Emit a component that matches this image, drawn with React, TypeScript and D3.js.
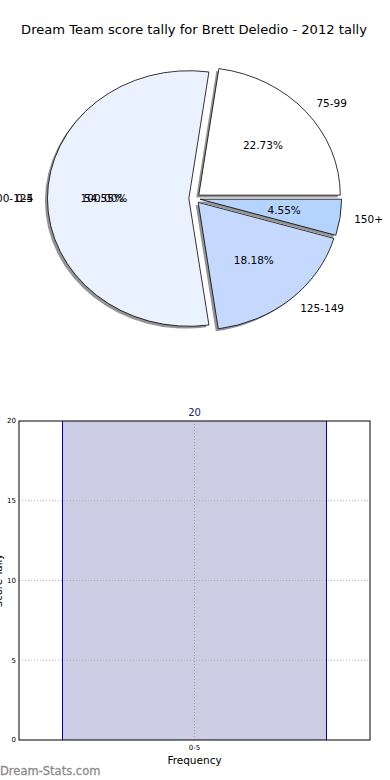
import { useMemo } from 'react';
import * as d3 from 'd3';

// pie: score ranges (counter-clockwise from 3 o'clock, like matplotlib)
const pieLabels = ['75-99', '100-124', '125-149', '150+'];
const pieValues = [5, 12, 4, 1];
const pieColors = ['#ffffff', '#eaf1ff', '#c5d9ff', '#b4d4ff'];

// second (overlaid) pie that only left its texts behind
const ghostLabels = ['0-5'];
const ghostValues = [20];

// histogram
const histCategories = ['0-5'];
const histValues = [20];
const yTicks = [0, 5, 10, 15, 20];

const W = 390;
const H = 780;
const FONT = '"DejaVu Sans", Verdana, sans-serif';

const pieSpec = { cx: 194.5, cy: 198.5, rx: 141.5, ry: 127.8, explode: 0.04 };
const plot = { left: 19, right: 370, top: 421, bottom: 740 };

const fmtPct = (v: number) => `${v.toFixed(2)}%`;

const App = () => {
  const pieGen = d3
    .pie<number>()
    .sort(null)
    .startAngle(Math.PI / 2)
    .endAngle(Math.PI / 2 - 2 * Math.PI)
    .value((d) => d);

  const slices = useMemo(() => pieGen(pieValues), []);
  const ghost = useMemo(() => pieGen(ghostValues), []);
  const total = d3.sum(pieValues);
  const ghostTotal = d3.sum(ghostValues);

  const arcGen = d3.arc<any>();
  const unitArc = (s: any) =>
    arcGen({ innerRadius: 0, outerRadius: 1, startAngle: s.startAngle, endAngle: s.endAngle }) as string;

  const { cx, cy, rx, ry, explode } = pieSpec;
  const dir = (s: any) => {
    const a = (s.startAngle + s.endAngle) / 2;
    return [Math.sin(a), -Math.cos(a)];
  };

  const x = d3
    .scaleBand<string>()
    .domain(histCategories)
    .range([plot.left, plot.right])
    .paddingInner(0.1415)
    .paddingOuter(0.1415);
  const y = d3.scaleLinear().domain([0, 20]).range([plot.bottom, plot.top]);

  return (
    <svg
      width={W}
      height={H}
      style={{ position: 'absolute', left: 0, top: 0, background: '#fff' }}
      fontFamily={FONT}
    >
      <text x={194} y={34} textAnchor="middle" fontSize={13.1} fill="#000">
        Dream Team score tally for Brett Deledio - 2012 tally
      </text>

      {/* shadows */}
      {slices.map((s, i) => {
        const [ux, uy] = dir(s);
        const tx = cx + explode * rx * ux - 0.018 * rx;
        const ty = cy + explode * ry * uy + 0.018 * ry;
        return (
          <path
            key={'sh' + i}
            d={unitArc(s)}
            transform={`translate(${tx},${ty}) scale(${rx},${ry})`}
            fill="#4d4d4d"
            opacity={0.6}
          />
        );
      })}

      {/* wedges */}
      {slices.map((s, i) => {
        const [ux, uy] = dir(s);
        const tx = cx + explode * rx * ux;
        const ty = cy + explode * ry * uy;
        return (
          <path
            key={'w' + i}
            d={unitArc(s)}
            transform={`translate(${tx},${ty}) scale(${rx},${ry})`}
            fill={pieColors[i]}
            stroke="#000"
            strokeWidth={0.8}
            vectorEffect="non-scaling-stroke"
          />
        );
      })}

      {/* labels */}
      {slices.map((s, i) => {
        const [ux, uy] = dir(s);
        const lx = cx + (explode + 1.1) * rx * ux;
        const ly = cy + (explode + 1.1) * ry * uy;
        const px = cx + (explode + 0.6) * rx * ux;
        const py = cy + (explode + 0.6) * ry * uy;
        return (
          <g key={'l' + i} fontSize={10.5} fill="#000">
            <text x={lx} y={ly} dy="0.35em" textAnchor={ux >= 0 ? 'start' : 'end'}>
              {pieLabels[i]}
            </text>
            <text x={px} y={py} dy="0.35em" textAnchor="middle">
              {fmtPct((pieValues[i] / total) * 100)}
            </text>
          </g>
        );
      })}

      {ghost.map((s, i) => {
        const [ux, uy] = dir(s);
        const lx = cx + (explode + 1.1) * rx * ux;
        const ly = cy + (explode + 1.1) * ry * uy;
        const px = cx + (explode + 0.6) * rx * ux;
        const py = cy + (explode + 0.6) * ry * uy;
        return (
          <g key={'g' + i} fontSize={10.5} fill="#000">
            <text x={lx} y={ly} dy="0.35em" textAnchor={ux >= 0 ? 'start' : 'end'}>
              {ghostLabels[i]}
            </text>
            <text x={px} y={py} dy="0.35em" textAnchor="middle">
              {fmtPct((ghostValues[i] / ghostTotal) * 100)}
            </text>
          </g>
        );
      })}

      {/* histogram */}
      {histCategories.map((c, i) => (
        <g key={'b' + i}>
          <rect
            x={x(c)}
            y={y(histValues[i])}
            width={x.bandwidth()}
            height={plot.bottom - y(histValues[i])}
            fill="#ccccE4"
          />
          <line x1={x(c)} x2={x(c)} y1={y(histValues[i])} y2={plot.bottom} stroke="#0000aa" strokeWidth={1} />
          <line
            x1={(x(c) as number) + x.bandwidth()}
            x2={(x(c) as number) + x.bandwidth()}
            y1={y(histValues[i])}
            y2={plot.bottom}
            stroke="#0000aa"
            strokeWidth={1}
          />
          <text
            x={(x(c) as number) + x.bandwidth() / 2}
            y={y(histValues[i]) - 5}
            textAnchor="middle"
            fontSize={10}
            fill="#1a1a6e"
          >
            {histValues[i]}
          </text>
        </g>
      ))}

      {/* grid */}
      {yTicks.slice(1, -1).map((t) => (
        <line
          key={'gy' + t}
          x1={plot.left}
          x2={plot.right}
          y1={y(t)}
          y2={y(t)}
          stroke="#b0b0b0"
          strokeDasharray="1,2"
        />
      ))}
      {histCategories.map((c) => (
        <line
          key={'gx' + c}
          x1={(x(c) as number) + x.bandwidth() / 2}
          x2={(x(c) as number) + x.bandwidth() / 2}
          y1={plot.top}
          y2={plot.bottom}
          stroke="#a0a0a0"
          strokeDasharray="1,2"
        />
      ))}

      <rect
        x={plot.left}
        y={plot.top}
        width={plot.right - plot.left}
        height={plot.bottom - plot.top}
        fill="none"
        stroke="#000"
        strokeWidth={1}
      />

      {yTicks.map((t) => (
        <text key={'yt' + t} x={plot.left - 3} y={y(t)} dy="0.35em" textAnchor="end" fontSize={7} fill="#000">
          {t}
        </text>
      ))}
      {histCategories.map((c) => (
        <text
          key={'xt' + c}
          x={(x(c) as number) + x.bandwidth() / 2}
          y={plot.bottom + 10}
          textAnchor="middle"
          fontSize={7}
          fill="#000"
        >
          {c}
        </text>
      ))}

      <text x={194.5} y={764} textAnchor="middle" fontSize={10.5} fill="#000">
        Frequency
      </text>
      <text transform={`translate(2,${(plot.top + plot.bottom) / 2}) rotate(-90)`} textAnchor="middle" fontSize={10} fill="#000">
        Score Tally
      </text>

      <text x={0} y={775} fontSize={11.5} fill="#8c8c8c" stroke="#8c8c8c" strokeWidth={0.3}>
        Dream-Stats.com
      </text>
    </svg>
  );
};

export default App;
